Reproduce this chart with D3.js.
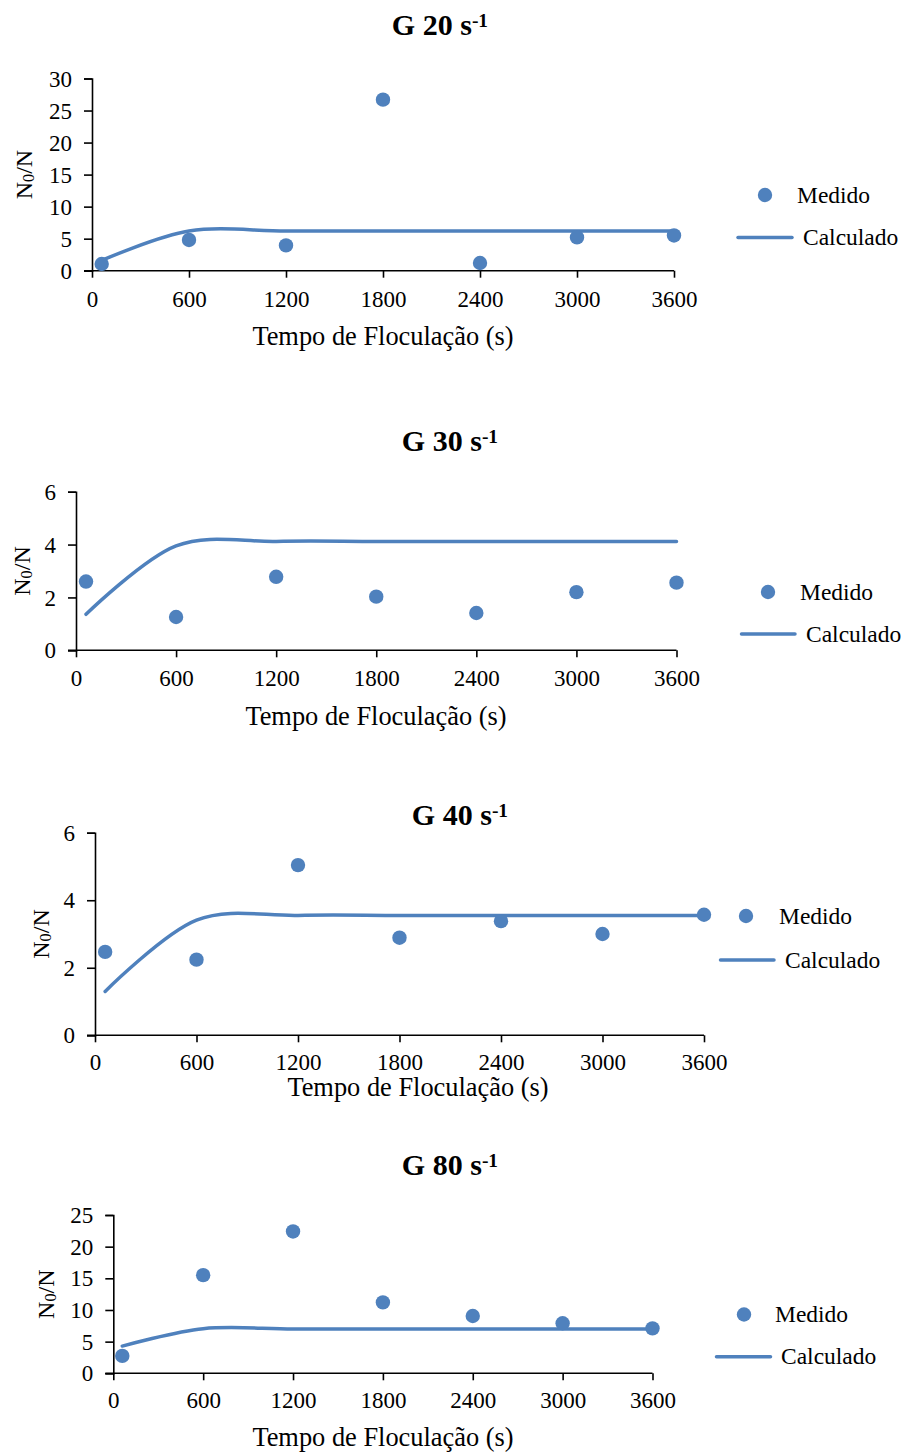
<!DOCTYPE html>
<html>
<head>
<meta charset="utf-8">
<script src="https://cdn.jsdelivr.net/npm/d3@7"></script>
<style>
  body { margin: 0; background: #fff; }
  svg { display: block; }
  text { font-family: "Liberation Serif", "Times New Roman", serif; fill: #000; }
</style>
</head>
<body>
<svg id="chart" width="907" height="1454"></svg>
<script>
// ---- Data ----
const times = [60, 600, 1200, 1800, 2400, 3000, 3600];
const xTicks = [0, 600, 1200, 1800, 2400, 3000, 3600];

const titles = ["G 20 s", "G 30 s", "G 40 s", "G 80 s"];

const medidoG20 = [1.05, 4.8, 3.95, 26.7, 1.2, 5.2, 5.5];
const calcG20   = [1.6, 6.2, 6.2, 6.2, 6.2, 6.2, 6.2];
const yTicksG20 = [0, 5, 10, 15, 20, 25, 30];

const medidoG30 = [2.6, 1.26, 2.78, 2.03, 1.41, 2.2, 2.56];
const calcG30   = [1.36, 3.95, 4.12, 4.12, 4.12, 4.12, 4.12];
const yTicksG30 = [0, 2, 4, 6];

const medidoG40 = [2.47, 2.24, 5.04, 2.89, 3.38, 3.0, 3.57];
const calcG40   = [1.3, 3.41, 3.55, 3.55, 3.55, 3.55, 3.55];
const yTicksG40 = [0, 2, 4, 6];

const medidoG80 = [2.75, 15.5, 22.4, 11.2, 9.05, 7.9, 7.1];
const calcG80   = [4.3, 7.05, 7.0, 7.0, 7.0, 7.0, 7.0];
const yTicksG80 = [0, 5, 10, 15, 20, 25];

const legendLabels = ["Medido", "Calculado"];
const xLabel = "Tempo de Floculação (s)";

// ---- Layout (positions only) ----
const panels = [
  { title: titles[0], med: medidoG20, calc: calcG20, yTicks: yTicksG20,
    x0: 92, x1: 674, yTop: 78.5, yBot: 270.7,
    titleX: 440, titleY: 35, xlabX: 383, xlabY: 345, ylabX: 32, tickY: 36,
    legMarker: [765, 195], legMedX: 797, legMedY: 203,
    legLine: [738, 792, 237.5], legCalX: 803, legCalY: 245 },
  { title: titles[1], med: medidoG30, calc: calcG30, yTicks: yTicksG30,
    x0: 76, x1: 676.5, yTop: 491.7, yBot: 650.3,
    titleX: 450, titleY: 451, xlabX: 376, xlabY: 725, ylabX: 30, tickY: 36,
    legMarker: [768, 592], legMedX: 800, legMedY: 600,
    legLine: [741.5, 795, 634], legCalX: 806, legCalY: 642 },
  { title: titles[2], med: medidoG40, calc: calcG40, yTicks: yTicksG40,
    x0: 95, x1: 704, yTop: 832.7, yBot: 1035.3,
    titleX: 460, titleY: 825, xlabX: 418, xlabY: 1096, ylabX: 49, tickY: 34.5,
    legMarker: [746, 916], legMedX: 779, legMedY: 924,
    legLine: [720.5, 774, 960], legCalX: 785, legCalY: 968 },
  { title: titles[3], med: medidoG80, calc: calcG80, yTicks: yTicksG80,
    x0: 113.3, x1: 652.5, yTop: 1215, yBot: 1373.3,
    titleX: 450, titleY: 1175, xlabX: 383, xlabY: 1446, ylabX: 54, tickY: 35,
    legMarker: [744, 1314.5], legMedX: 775, legMedY: 1322,
    legLine: [716.5, 770.5, 1356.7], legCalX: 781, legCalY: 1364 }
];

const BLUE = "#4F81BD";
const FONT = '"Liberation Serif", "Times New Roman", serif';
const svg = d3.select("#chart");

panels.forEach(p => {
  const yMax = d3.max(p.yTicks);
  const x = d3.scaleLinear().domain([0, 3600]).range([p.x0, p.x1]);
  const y = d3.scaleLinear().domain([0, yMax]).range([p.yBot, p.yTop]);
  const g = svg.append("g");

  // Title
  const t = g.append("text")
    .attr("x", p.titleX).attr("y", p.titleY)
    .attr("text-anchor", "middle")
    .attr("font-size", 30).attr("font-weight", "bold")
    .text(p.title);
  t.append("tspan").attr("dy", "-0.42em").attr("font-size", "0.65em").text("-1");

  // Y axis
  const yAxis = g.append("g")
    .attr("transform", `translate(${p.x0},0)`)
    .call(d3.axisLeft(y).tickValues(p.yTicks).tickSize(8).tickPadding(12).tickFormat(d3.format("d")));
  yAxis.attr("font-family", null).attr("font-size", null);
  yAxis.select(".domain").attr("stroke", "#000").attr("stroke-width", 1.6);
  yAxis.selectAll(".tick line").attr("stroke", "#000").attr("stroke-width", 1.6);
  yAxis.selectAll(".tick text")
    .style("font-family", FONT).style("font-size", "23px")
    .attr("fill", "#000").attr("dy", "0.33em");

  // X axis
  const xAxis = g.append("g")
    .attr("transform", `translate(0,${p.yBot})`)
    .call(d3.axisBottom(x).tickValues(xTicks).tickSize(7).tickSizeOuter(0).tickPadding(0).tickFormat(d3.format("d")));
  xAxis.attr("font-family", null).attr("font-size", null);
  xAxis.select(".domain").attr("stroke", "#000").attr("stroke-width", 1.6)
    .attr("d", `M${p.x0 - 8},0H${p.x1}`);
  xAxis.selectAll(".tick line").attr("stroke", "#000").attr("stroke-width", 1.6);
  xAxis.selectAll(".tick text")
    .style("font-family", FONT).style("font-size", "23px")
    .attr("fill", "#000").attr("y", p.tickY).attr("dy", 0);

  // Calculated line
  const line = d3.line()
    .x((d, i) => x(times[i]))
    .y(d => y(d))
    .curve(d3.curveCardinal.tension(0));
  g.append("path")
    .datum(p.calc)
    .attr("d", line)
    .attr("fill", "none")
    .attr("stroke", BLUE)
    .attr("stroke-width", 3.5)
    .attr("stroke-linecap", "round");

  // Measured points
  g.selectAll("circle.pt").data(p.med).enter().append("circle")
    .attr("class", "pt")
    .attr("cx", (d, i) => x(times[i]))
    .attr("cy", d => y(d))
    .attr("r", 7.2)
    .attr("fill", BLUE);

  // Axis titles
  g.append("text")
    .attr("x", p.xlabX).attr("y", p.xlabY)
    .attr("text-anchor", "middle").attr("font-size", 26.4)
    .text(xLabel);

  const yl = g.append("text")
    .attr("transform", `translate(${p.ylabX},${(p.yTop + p.yBot) / 2}) rotate(-90)`)
    .attr("text-anchor", "middle").attr("font-size", 24);
  yl.append("tspan").text("N");
  yl.append("tspan").attr("font-size", "0.68em").attr("dy", "0.12em").text("0");
  yl.append("tspan").attr("dy", "-0.08em").text("/N");

  // Legend
  g.append("circle").attr("cx", p.legMarker[0]).attr("cy", p.legMarker[1]).attr("r", 7.2).attr("fill", BLUE);
  g.append("text").attr("x", p.legMedX).attr("y", p.legMedY).attr("font-size", 23.5).text(legendLabels[0]);
  g.append("line")
    .attr("x1", p.legLine[0]).attr("x2", p.legLine[1])
    .attr("y1", p.legLine[2]).attr("y2", p.legLine[2])
    .attr("stroke", BLUE).attr("stroke-width", 3.5).attr("stroke-linecap", "round");
  g.append("text").attr("x", p.legCalX).attr("y", p.legCalY).attr("font-size", 23.5).text(legendLabels[1]);
});
</script>
</body>
</html>
